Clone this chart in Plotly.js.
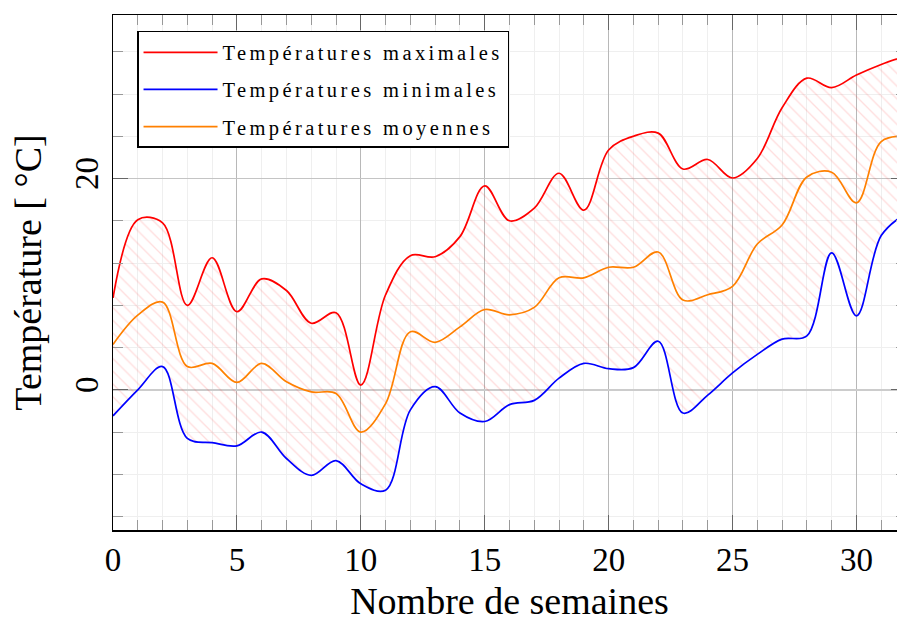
<!DOCTYPE html>
<html>
<head>
<meta charset="utf-8">
<script src="https://cdn.plot.ly/plotly-3.0.1.min.js"></script>
<style>
html, body { margin: 0; padding: 0; overflow: hidden; background: #fff; }
#chart { width: 910px; height: 622px; }
.legendtext { letter-spacing: 3.4px; }
</style>
</head>
<body>
<div id="chart"></div>
<script>
const weeks = [0,1,2,3,4,5,6,7,8,9,10,11,12,13,14,15,16,17,18,19,20,21,22,23,24,25,26,27,28,29,30,31,32];
const tMax = [8.7, 16.1, 15.8, 8.0, 12.5, 7.4, 10.5, 9.4, 6.3, 7.3, 0.45, 9.0, 12.7, 12.6, 14.5, 19.3, 16.0, 17.2, 20.5, 17.0, 22.7, 24.0, 24.3, 20.9, 21.8, 20.05, 21.9, 26.7, 29.5, 28.6, 29.8, 30.8, 31.6];
const tMin = [-2.46, 0.0, 2.2, -4.6, -5.0, -5.3, -4.0, -6.5, -8.1, -6.7, -8.9, -9.5, -1.9, 0.3, -2.2, -3.0, -1.4, -1.0, 1.1, 2.5, 2.0, 2.1, 4.6, -2.2, -0.5, 1.6, 3.35, 4.8, 5.1, 12.96, 7.0, 14.6, 16.7];
const tMoy = [4.3, 7.07, 8.3, 2.2, 2.5, 0.7, 2.5, 0.76, -0.2, -0.35, -4.0, -1.3, 5.5, 4.5, 5.96, 7.6, 7.1, 7.8, 10.6, 10.6, 11.6, 11.6, 13.05, 8.5, 9.0, 9.8, 13.8, 15.6, 20.15, 20.6, 17.7, 23.5, 24.0];
const names = ['Températures maximales', 'Températures minimales', 'Températures moyennes'];
const colors = ['#ff0000', '#0000ff', '#ff8000'];

const serif = 'Liberation Serif, DejaVu Serif, serif';
const lineW = 1.7;

const traces = [
  { x: weeks, y: tMin, mode: 'lines', line: {width: 0, shape: 'spline', smoothing: 1}, showlegend: false, hoverinfo: 'skip' },
  { x: weeks, y: tMax, mode: 'lines', line: {width: 0, shape: 'spline', smoothing: 1}, showlegend: false, hoverinfo: 'skip',
    fill: 'tonexty', fillcolor: 'rgba(0,0,0,0)',
    fillpattern: { shape: '\\', fgcolor: 'rgba(255,40,40,0.32)', bgcolor: 'rgba(0,0,0,0)', size: 9, solidity: 0.15, fillmode: 'overlay' } },
  { x: weeks, y: tMax, name: names[0], legendgroup: 'a', mode: 'lines', line: {color: colors[0], width: lineW, shape: 'spline', smoothing: 1} },
  { x: weeks, y: tMin, name: names[1], legendgroup: 'b', mode: 'lines', line: {color: colors[1], width: lineW, shape: 'spline', smoothing: 1} },
  { x: weeks, y: tMoy, name: names[2], legendgroup: 'c', mode: 'lines', line: {color: colors[2], width: lineW, shape: 'spline', smoothing: 1} }
];

const layout = {
  width: 910, height: 622,
  margin: {l: 113, r: 4, t: 15, b: 92},
  paper_bgcolor: '#ffffff', plot_bgcolor: '#ffffff',
  font: {family: serif, color: '#000'},
  showlegend: true,
  legend: {
    x: 0.0303, y: 0.969, xanchor: 'left', yanchor: 'top',
    bgcolor: '#ffffff', bordercolor: '#000000', borderwidth: 1.5,
    font: {family: serif, size: 20.5, color: '#000'},
    traceorder: 'grouped', tracegroupgap: 7.5,
    itemwidth: 74
  },
  xaxis: {
    range: [0, 32], tick0: 0, dtick: 5,
    ticks: 'inside', ticklen: 15, tickwidth: 1, tickcolor: '#666',
    showline: true, linecolor: '#000', linewidth: 1.5, mirror: 'ticks',
    showgrid: true, gridcolor: '#b8b8b8', gridwidth: 1, zeroline: false,
    minor: {dtick: 1, ticks: 'inside', ticklen: 10, tickcolor: '#999', showgrid: true, gridcolor: '#efefef', gridwidth: 1},
    tickfont: {family: serif, size: 33, color: '#000'},
    title: {text: 'Nombre de semaines', font: {family: serif, size: 38, color: '#000'}, standoff: 20}
  },
  yaxis: {
    range: [-13.27, 35.48], tick0: 0, dtick: 20, tickangle: -90,
    ticks: 'inside', ticklen: 15, tickwidth: 1, tickcolor: '#666',
    showline: true, linecolor: '#000', linewidth: 1.5, mirror: 'ticks',
    showgrid: true, gridcolor: '#c4c4c4', gridwidth: 1,
    zeroline: true, zerolinecolor: '#cccccc', zerolinewidth: 2,
    minor: {dtick: 4, ticks: 'inside', ticklen: 10, tickcolor: '#999', showgrid: true, gridcolor: '#efefef', gridwidth: 1},
    tickfont: {family: serif, size: 33, color: '#000'},
    title: {text: 'Température [ °C]', font: {family: serif, size: 38, color: '#000'}, standoff: 16}
  }
};

Plotly.newPlot('chart', traces, layout, {staticPlot: true, displayModeBar: false});
</script>
</body>
</html>
